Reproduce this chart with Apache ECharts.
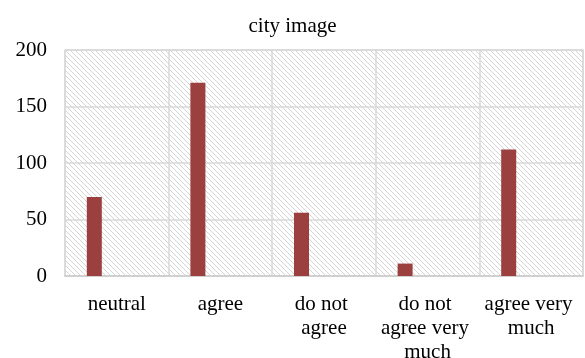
<!DOCTYPE html>
<html>
<head>
<meta charset="utf-8">
<script src="https://cdn.jsdelivr.net/npm/echarts@6/dist/echarts.min.js"></script>
<style>
  html, body { margin: 0; padding: 0; background: #fff; }
  #chart { width: 585px; height: 358px; }
</style>
</head>
<body>
<div id="chart"></div>
<script>
const categories = ['neutral', 'agree', 'do not agree', 'do not agree very much', 'agree very much'];
const cityImage = [70, 171, 56, 11, 112];
const yTicks = [0, 50, 100, 150, 200];

// diagonal hatch tile for the plot background
function hatchTile() {
    const c = document.createElement('canvas');
    c.width = 5;
    c.height = 5;
    const ctx = c.getContext('2d');
    ctx.fillStyle = '#fff';
    ctx.fillRect(0, 0, 5, 5);
    ctx.fillStyle = '#d4d4d4';
    for (let i = 0; i < 5; i++) {
        ctx.fillRect(i, i, 1, 1);
    }
    return c;
}

const chart = echarts.init(document.getElementById('chart'));
const font = '"Liberation Serif", "Times New Roman", serif';

chart.setOption({
    animation: false,
    title: {
        text: 'city image',
        left: 'center',
        top: 11,
        textStyle: { fontFamily: font, fontSize: 21, fontWeight: 'normal', color: '#000' },
    },
    grid: {
        left: 65,
        right: 2,
        top: 50,
        bottom: 82,
        outerBoundsMode: 'none',
        containLabel: false,
        show: true,
        borderColor: '#d9d9d9',
        borderWidth: 1.5,
        backgroundColor: { image: hatchTile(), repeat: 'repeat' },
    },
    xAxis: {
        type: 'category',
        data: categories,
        axisTick: { show: false },
        axisLine: { lineStyle: { color: '#d0d0d0', width: 2 } },
        splitLine: { show: true, lineStyle: { color: '#d9d9d9', width: 1.5 } },
        axisLabel: {
            interval: 0,
            margin: 16,
            width: 95,
            overflow: 'break',
            lineHeight: 24,
            fontFamily: font,
            fontSize: 21,
            color: '#000',
        },
    },
    yAxis: {
        type: 'value',
        min: yTicks[0],
        max: yTicks[yTicks.length - 1],
        interval: 50,
        axisLine: { show: false },
        axisTick: { show: false },
        splitLine: { lineStyle: { color: '#d9d9d9', width: 1.5 } },
        axisLabel: { margin: 18, fontFamily: font, fontSize: 21, color: '#000' },
    },
    series: [
        {
            name: 'city image',
            type: 'bar',
            data: cityImage,
            barWidth: 15,
            barGap: '200%',
            itemStyle: { color: '#9c3f3f' },
        },
        {
            // empty second slot so bars sit left of centre as in the original
            name: 'placeholder',
            type: 'bar',
            data: [],
            barWidth: 15,
        },
    ],
});
</script>
</body>
</html>
